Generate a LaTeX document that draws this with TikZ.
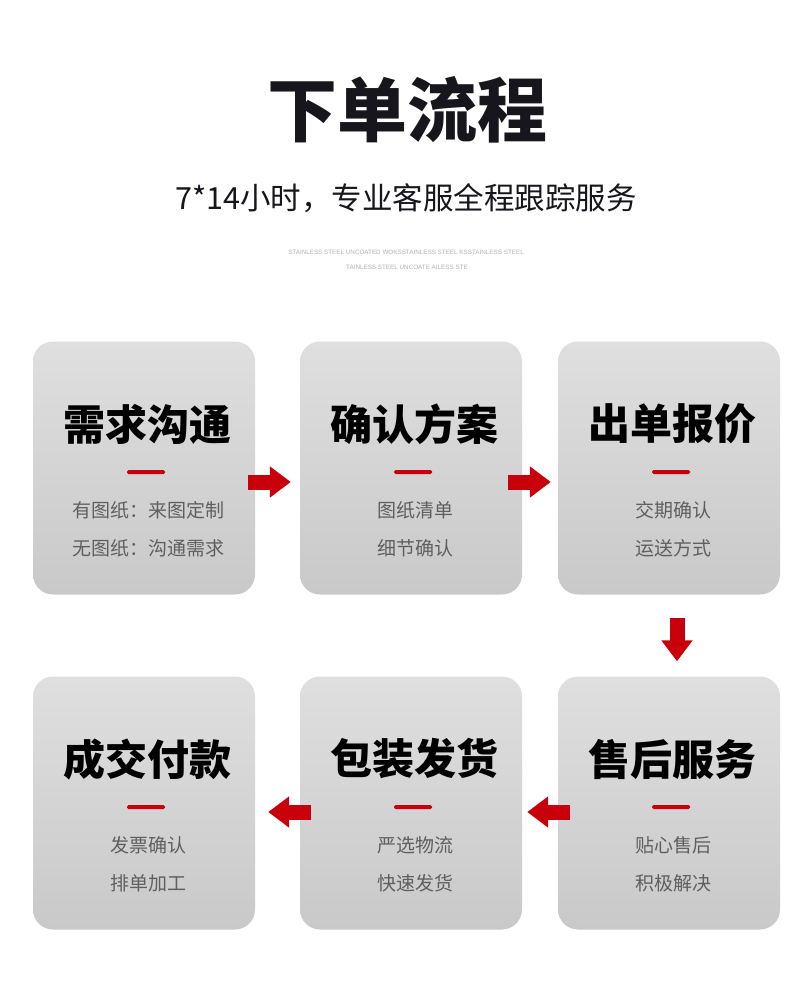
\documentclass[tikz,border=0pt]{standalone}
\usepackage{fontspec}
\setmainfont{Noto Sans CJK SC}
\newfontfamily\tinyfont{Liberation Sans}
\usetikzlibrary{calc,arrows.meta}

\definecolor{boxtop}{RGB}{223,223,223}
\definecolor{boxbot}{RGB}{201,201,201}
\definecolor{flowred}{RGB}{200,0,12}
\definecolor{bodygray}{RGB}{95,95,95}
\definecolor{inkblack}{RGB}{22,22,28}

\tikzset{
  stepcard/.style={rounded corners=20pt, minimum width=222pt, minimum height=253pt,
    top color=boxtop, bottom color=boxbot, inner sep=0pt},
  cardhead/.style={font=\fontsize{42}{46}\selectfont\bfseries, text=black},
  cardline/.style={font=\fontsize{19}{22}\selectfont, text=bodygray},
  reddash/.style={fill=flowred, minimum width=38pt, minimum height=4pt, inner sep=0pt, rounded corners=1.5pt},
  flowarrow/.style={draw=flowred, line width=15pt, -{Triangle[length=21pt,width=30pt]}}
}

\begin{document}
\begin{tikzpicture}[x=1pt,y=-1pt]
	\useasboundingbox (0,0) rectangle (790,1003);
	\fill[white] (0,0) rectangle (790,1003);

	% Title and subtitle
	\node[text=inkblack, font=\fontsize{70}{76}\selectfont\bfseries] (title) at (407,110) {下单流程};
	\node[text=inkblack, font=\fontsize{30.5}{34}\selectfont] (subtitle) at (406,198) {7*14小时，专业客服全程跟踪服务};
	\node[text=black!30, font=\tinyfont\fontsize{6.3}{7}\selectfont] (deco1) at (406,252) {STAINLESS STEEL UNCOATED WOKSSTAINLESS STEEL KSSTAINLESS STEEL};
	\node[text=black!30, font=\tinyfont\fontsize{6.3}{7}\selectfont] (deco2) at (407,267) {TAINLESS STEEL UNCOATE AILESS STE};

	% Cards
	\foreach \name/\x/\y/\head/\lineA/\lineB in {
		b1/144/468/需求沟通/有图纸：来图定制/无图纸：沟通需求,
		b2/411/468/确认方案/图纸清单/细节确认,
		b3/669/468/出单报价/交期确认/运送方式,
		b4/144/803/成交付款/发票确认/排单加工,
		b5/411/803/包装发货/严选物流/快速发货,
		b6/669/803/售后服务/贴心售后/积极解决} {
		\node[stepcard] (\name) at (\x,\y) {};
		\node[cardhead] (\name-head) at ($(\name.center)+(3,-44)$) {\head};
		\node[reddash] (\name-dash) at ($(\name.center)+(2,4)$) {};
		\node[cardline] (\name-a) at ($(\name.center)+(4,42)$) {\lineA};
		\node[cardline] (\name-b) at ($(\name.center)+(4,80)$) {\lineB};
	}

	% Arrows between cards
	\draw[flowarrow, shorten <=-7pt, shorten >=9pt] ($(b1.east)+(0,14)$) -- ($(b2.west)+(0,14)$);
	\draw[flowarrow, shorten <=-14pt, shorten >=7pt] ($(b2.east)+(0,14)$) -- ($(b3.west)+(0,14)$);
	\draw[flowarrow, shorten <=23pt, shorten >=15pt] ($(b3.south)+(8,0)$) -- ($(b6.north)+(8,0)$);
	\draw[flowarrow, shorten <=-12pt, shorten >=5pt] ($(b6.west)+(0,9)$) -- ($(b5.east)+(0,9)$);
	\draw[flowarrow, shorten <=-11pt, shorten >=13pt] ($(b5.west)+(0,9)$) -- ($(b4.east)+(0,9)$);
\end{tikzpicture}
\end{document}
